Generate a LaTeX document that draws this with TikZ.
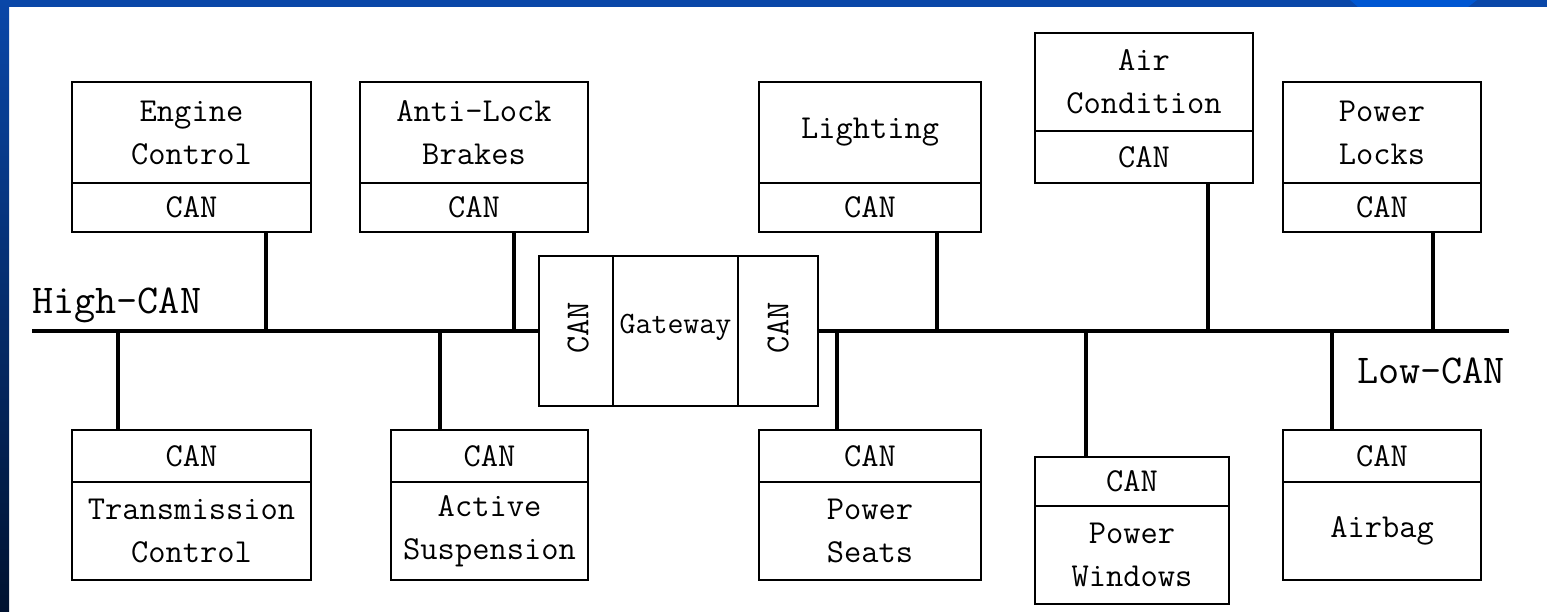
\documentclass[tikz,border=0pt]{standalone}
\usepackage{fontspec}
\newcommand\ecufnt{\ttfamily\fontsize{33.5}{43}\selectfont}
\newcommand\gwfnt{\ttfamily\fontsize{31}{34}\selectfont}
\newcommand\busfnt{\ttfamily\fontsize{41}{44}\selectfont}
\definecolor{frameblue}{HTML}{0A47A8}
\definecolor{framelight}{HTML}{0057D2}
\definecolor{framedark}{HTML}{001230}
\tikzset{
  part/.style={draw=black, line width=1.8pt, inner sep=0pt, font=\ecufnt, align=center},
  buswire/.style={line width=4.5pt, line cap=butt},
  tap/.style={line width=4pt},
  buslabel/.style={font=\busfnt, inner sep=0pt, anchor=base west}
}
\begin{document}
\begin{tikzpicture}[x=1pt,y=-1pt]
\useasboundingbox (0,0) rectangle (1547,612);
% background and frame
\fill[white] (0,0) rectangle (1547,612);
\fill[frameblue] (0,0) rectangle (1547,7);
\fill[framelight] (1350,0) -- (1477,0) -- (1468,7) -- (1358,7) -- cycle;
\shade[top color=frameblue, bottom color=framedark] (0,0) rectangle (9,612);

% top ECUs
\node[part, minimum width=239pt, minimum height=101pt] (ec) at (191.5,132.5) {Engine\\Control};
\node[part, minimum width=239pt, minimum height=49pt] (eccan) at (191.5,207.5) {CAN};
\node[part, minimum width=228pt, minimum height=101pt] (abs) at (474,132.5) {Anti-Lock\\Brakes};
\node[part, minimum width=228pt, minimum height=49pt] (abscan) at (474,207.5) {CAN};
\node[part, minimum width=222pt, minimum height=101pt] (li) at (870,132.5) {Lighting};
\node[part, minimum width=222pt, minimum height=49pt] (lican) at (870,207.5) {CAN};
\node[part, minimum width=218pt, minimum height=98pt] (ac) at (1144,82) {Air\\Condition};
\node[part, minimum width=218pt, minimum height=52pt] (accan) at (1144,157) {CAN};
\node[part, minimum width=198pt, minimum height=101pt] (pl) at (1382,132.5) {Power\\Locks};
\node[part, minimum width=198pt, minimum height=49pt] (plcan) at (1382,207.5) {CAN};

% bottom ECUs
\node[part, minimum width=239pt, minimum height=52pt] (tccan) at (191.5,456) {CAN};
\node[part, minimum width=239pt, minimum height=98pt] (tc) at (191.5,531) {Transmission\\Control};
\node[part, minimum width=197pt, minimum height=52pt] (ascan) at (489.5,456) {CAN};
\node[part, minimum width=197pt, minimum height=98pt] (as) at (489.5,531) {Active\\Suspension};
\node[part, minimum width=222pt, minimum height=52pt] (pscan) at (870,456) {CAN};
\node[part, minimum width=222pt, minimum height=98pt] (ps) at (870,531) {Power\\Seats};
\node[part, minimum width=194pt, minimum height=49pt] (pwcan) at (1132,481.5) {CAN};
\node[part, minimum width=194pt, minimum height=98pt] (pw) at (1132,555) {Power\\Windows};
\node[part, minimum width=198pt, minimum height=52pt] (abcan) at (1382,456) {CAN};
\node[part, minimum width=198pt, minimum height=98pt] (ab) at (1382,531) {Airbag};

% gateway
\node[part, minimum width=74pt, minimum height=150pt] (gl) at (576,331) {};
\node[part, minimum width=125pt, minimum height=150pt] (gm) at (675.5,331) {};
\node[part, minimum width=80pt, minimum height=150pt] (gr) at (778,331) {};
\node[font=\ecufnt, rotate=90, inner sep=0pt] (gltxt) at (578,328) {CAN};
\node[font=\gwfnt, inner sep=0pt] (gmtxt) at (675.5,327) {Gateway};
\node[font=\ecufnt, rotate=90, inner sep=0pt] (grtxt) at (778,328) {CAN};

% bus ends and taps
\coordinate (hstart) at (32,331);
\coordinate (lend) at (1509,331);
\draw[buswire] (hstart) -- (gl.west |- hstart);
\draw[buswire] (gr.east |- lend) -- (lend);

\coordinate (t1) at (266,331);
\coordinate (t2) at (514,331);
\coordinate (t3) at (937,331);
\coordinate (t4) at (1208,331);
\coordinate (t5) at (1433,331);
\coordinate (b1) at (118,331);
\coordinate (b2) at (440,331);
\coordinate (b3) at (837,331);
\coordinate (b4) at (1086,331);
\coordinate (b5) at (1332,331);

\draw[tap] (eccan.south -| t1) -- (t1);
\draw[tap] (abscan.south -| t2) -- (t2);
\draw[tap] (lican.south -| t3) -- (t3);
\draw[tap] (accan.south -| t4) -- (t4);
\draw[tap] (plcan.south -| t5) -- (t5);
\draw[tap] (b1) -- (tccan.north -| b1);
\draw[tap] (b2) -- (ascan.north -| b2);
\draw[tap] (b3) -- (pscan.north -| b3);
\draw[tap] (b4) -- (pwcan.north -| b4);
\draw[tap] (b5) -- (abcan.north -| b5);

% bus labels
\node[buslabel] (hl) at (32,313) {High-CAN};
\node[buslabel] (ll) at (1357,383) {Low-CAN};
\end{tikzpicture}
\end{document}
